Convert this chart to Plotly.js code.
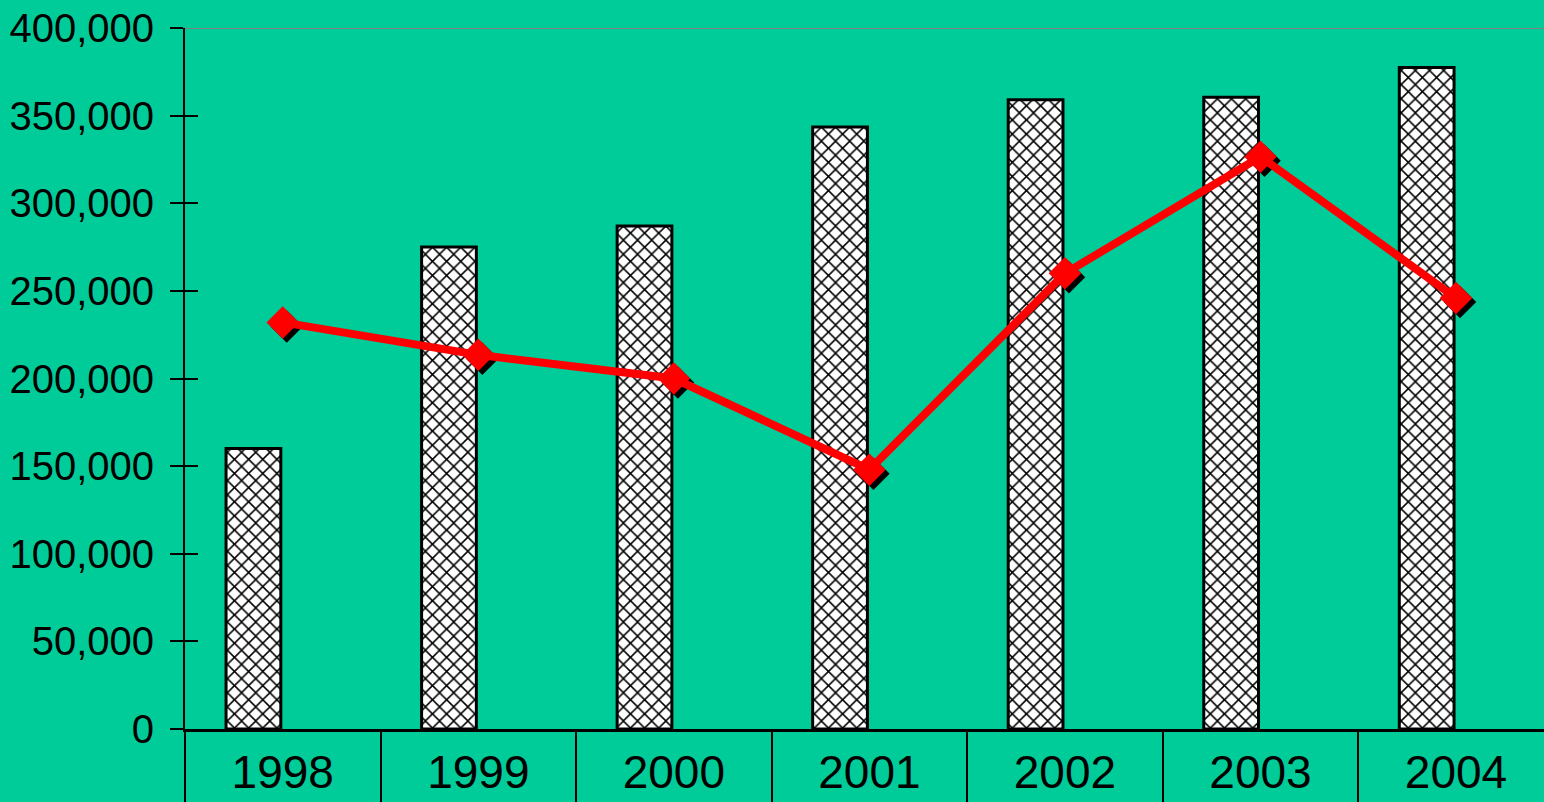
<!DOCTYPE html>
<html>
<head>
<meta charset="utf-8">
<script src="https://cdn.plot.ly/plotly-3.0.1.min.js"></script>
<style>html,body{margin:0;padding:0;background:#00CC99;}#chart{width:1544px;height:802px;}</style>
</head>
<body>
<div id="chart"></div>
<script>
// Data
const years = ['1998', '1999', '2000', '2001', '2002', '2003', '2004'];
const barValues = [160000, 275000, 287000, 343500, 359000, 360500, 377500];
const lineValues = [232000, 213500, 200000, 148000, 260000, 326500, 246000];
const yTickValues = [0, 50000, 100000, 150000, 200000, 250000, 300000, 350000, 400000];

const BG = '#00CC99';
const FONT = 'Liberation Sans, Arial, sans-serif';
const xRange = [-0.5, 6.45];
const yRange = [0, 400000];
// shadow offset (px) converted through the axis scales
const plotW = 1544 - 185, plotH = 802 - 28 - 73;
const dxCat = 4 * (xRange[1] - xRange[0]) / plotW;
const dyVal = 4 * (yRange[1] - yRange[0]) / plotH;

const bars = {
  type: 'bar', x: years, y: barValues, xaxis: 'x', yaxis: 'y',
  offset: -0.29, width: 0.28,
  marker: {
    color: 'white',
    line: {color: 'black', width: 3},
    pattern: {shape: 'x', fgcolor: 'black', bgcolor: 'white', size: 10, solidity: 0.28}
  },
  hoverinfo: 'skip', showlegend: false
};
const shadow = {
  type: 'scatter', mode: 'markers', x: years, y: lineValues, xaxis: 'x2', yaxis: 'y2',
  marker: {symbol: 'diamond', size: 25, color: 'black', line: {width: 0}},
  hoverinfo: 'skip', showlegend: false
};
const line = {
  type: 'scatter', mode: 'lines+markers', x: years, y: lineValues, xaxis: 'x3', yaxis: 'y3',
  line: {color: '#FF0000', width: 8},
  marker: {symbol: 'diamond', size: 25, color: '#FF0000', line: {width: 0}},
  hoverinfo: 'skip', showlegend: false
};

const layout = {
  width: 1544, height: 802,
  margin: {l: 185, r: 0, t: 28, b: 73, pad: 0},
  paper_bgcolor: BG, plot_bgcolor: BG,
  showlegend: false,
  bargap: 0,
  xaxis: {
    type: 'category', categoryarray: years, range: xRange, automargin: false,
    showline: true, linecolor: 'black', linewidth: 3,
    ticks: 'outside', tickson: 'boundaries', ticklen: 75, tickwidth: 2, tickcolor: 'black',
    tickfont: {family: FONT, size: 46, color: 'black'},
    ticklabelstandoff: 1,
    showgrid: false, zeroline: false, fixedrange: true
  },
  yaxis: {
    range: yRange, automargin: false,
    tickmode: 'array', tickvals: yTickValues, tickformat: ',d',
    showline: true, linecolor: 'black', linewidth: 2,
    ticks: 'outside', ticklen: 13, tickwidth: 2, tickcolor: 'black',
    tickfont: {family: FONT, size: 40, color: 'black'},
    ticklabelstandoff: 8,
    showgrid: false, zeroline: false, fixedrange: true
  },
  xaxis2: {type: 'category', categoryarray: years, overlaying: 'x', range: [xRange[0] - dxCat, xRange[1] - dxCat], visible: false, fixedrange: true},
  yaxis2: {overlaying: 'y', anchor: 'x', range: [yRange[0] + dyVal, yRange[1] + dyVal], visible: false, fixedrange: true},
  xaxis3: {type: 'category', categoryarray: years, overlaying: 'x', range: xRange, visible: false, fixedrange: true},
  yaxis3: {
    overlaying: 'y', anchor: 'x', range: yRange,
    tickmode: 'array', tickvals: yTickValues,
    ticks: 'inside', ticklen: 13, tickwidth: 2, tickcolor: 'black',
    showticklabels: false, showline: false, showgrid: false, zeroline: false, fixedrange: true
  },
  shapes: [{
    type: 'line', xref: 'paper', yref: 'y', x0: 0, x1: 1, y0: yRange[1], y1: yRange[1],
    line: {color: '#808080', width: 2}, layer: 'below'
  }]
};

Plotly.newPlot('chart', [bars, shadow, line], layout, {displayModeBar: false, staticPlot: true});
</script>
</body>
</html>
